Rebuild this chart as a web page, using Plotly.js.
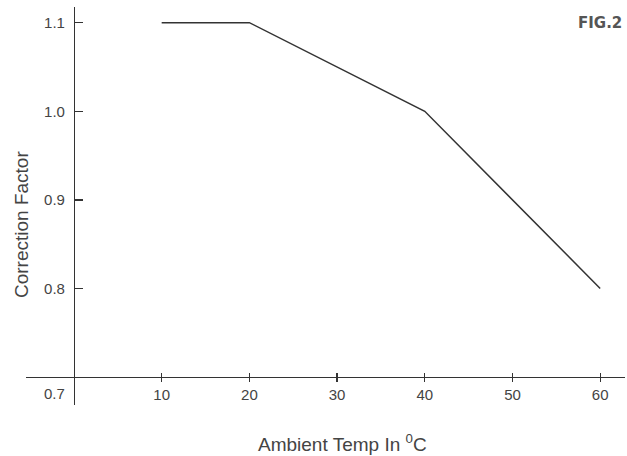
<!DOCTYPE html>
<html>
<head>
<meta charset="utf-8">
<script src="https://cdn.plot.ly/plotly-3.0.1.min.js"></script>
<style>html,body{margin:0;padding:0;background:#fff;}</style>
</head>
<body>
<div id="chart" style="width:627px;height:456px;"></div>
<script>
// Data
const ambientTemp = [10, 20, 40, 60];
const correctionFactor = [1.1, 1.1, 1.0, 0.8];
const xTickValues = [10, 20, 30, 40, 50, 60];
const xTickLabels = ['10', '20', '30', '40', '50', '60'];
const yTickValues = [0.8, 0.9, 1.0, 1.1];
const yTickLabels = ['0.8', '0.9', '1.0', '1.1'];
const yBaseValue = 0.7;
const yBaseLabel = '0.7';
const xTitle = 'Ambient Temp In <sup>0</sup>C';
const yTitle = 'Correction Factor';
const figLabel = 'FIG.2';

const ink = '#333333';
const textInk = '#444444';
const font = 'Liberation Sans, Arial, Helvetica, sans-serif';

const traces = [
  {
    x: ambientTemp, y: correctionFactor, type: 'scatter', mode: 'lines',
    line: {color: ink, width: 1.5}, hoverinfo: 'skip', showlegend: false,
    xaxis: 'x', yaxis: 'y'
  },
  {
    x: ambientTemp, y: correctionFactor, type: 'scatter', mode: 'lines',
    line: {color: 'rgba(0,0,0,0)', width: 0}, hoverinfo: 'skip', showlegend: false,
    xaxis: 'x2', yaxis: 'y'
  }
];

const xRange = [-5.47, 62.83];
const yRange = [0.6684, 1.1177];
const xAxisPos = 0.0704;
const yAxisPos = 0.0801;

const layout = {
  width: 627, height: 456,
  margin: {l: 26, r: 2, t: 7, b: 51, pad: 0},
  paper_bgcolor: '#fff', plot_bgcolor: '#fff',
  showlegend: false,
  font: {family: font, color: textInk, size: 15},
  xaxis: {
    range: xRange, anchor: 'free', position: xAxisPos,
    showgrid: false, zeroline: false,
    showline: true, linecolor: ink, linewidth: 1.5,
    ticks: 'outside', ticklen: 4, tickwidth: 1.2, tickcolor: ink,
    tickmode: 'array', tickvals: xTickValues, ticktext: xTickLabels,
    tickfont: {family: font, size: 15, color: textInk}
  },
  xaxis2: {
    range: xRange, anchor: 'free', position: xAxisPos, overlaying: 'x',
    showgrid: false, zeroline: false, showline: false,
    ticks: 'inside', ticklen: 4, tickwidth: 1.2, tickcolor: ink,
    tickmode: 'array', tickvals: xTickValues, showticklabels: false
  },
  yaxis: {
    range: yRange, anchor: 'free', position: yAxisPos,
    showgrid: false, zeroline: false,
    showline: true, linecolor: ink, linewidth: 1.5,
    ticks: 'inside', ticklen: 8, tickwidth: 1.5, tickcolor: ink,
    tickmode: 'array', tickvals: yTickValues, ticktext: yTickLabels,
    ticklabelstandoff: 6,
    tickfont: {family: font, size: 15, color: textInk}
  },
  annotations: [
    {
      text: yBaseLabel, x: 0, y: yBaseValue, xref: 'x', yref: 'y',
      xanchor: 'right', yanchor: 'middle', xshift: -7, yshift: -16,
      showarrow: false, font: {family: font, size: 15, color: textInk}
    },
    {
      text: xTitle, xref: 'paper', yref: 'paper', x: 0.529, y: -0.0955,
      xanchor: 'center', yanchor: 'middle', showarrow: false,
      font: {family: font, size: 19, color: textInk}
    },
    {
      text: yTitle, xref: 'paper', yref: 'paper', x: -0.0075, y: 0.4535,
      xanchor: 'center', yanchor: 'middle', textangle: -90, showarrow: false,
      font: {family: font, size: 19, color: textInk}
    },
    {
      text: '<b>' + figLabel + '</b>', xref: 'paper', yref: 'paper', x: 0.958, y: 0.96,
      xanchor: 'center', yanchor: 'middle', showarrow: false,
      font: {family: 'DejaVu Sans, sans-serif', size: 15, color: '#555'}
    }
  ]
};

Plotly.newPlot('chart', traces, layout, {displayModeBar: false, staticPlot: true});
</script>
</body>
</html>
